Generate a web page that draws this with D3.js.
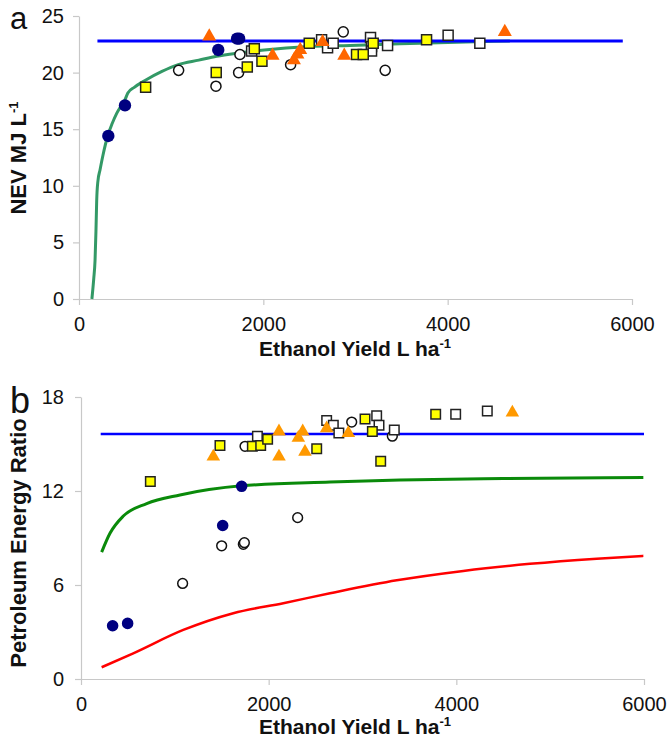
<!DOCTYPE html>
<html>
<head>
<meta charset="utf-8">
<script src="https://cdn.jsdelivr.net/npm/d3@7"></script>
<style>
  body { margin: 0; background: #fff; }
  svg { display: block; font-family: "Liberation Sans", Arial, sans-serif; }
</style>
</head>
<body>
<svg id="chart" width="668" height="738"></svg>
<script>
"use strict"

// shared x ticks
const xTicks = [0, 2000, 4000, 6000];

// ---- panel a : NEV ----
const nevTicks = [0, 5, 10, 15, 20, 25];
const nevNavy = [[318, 14.4], [499, 17.1], [1511, 22.0], [1715, 23.0], [1738, 23.0]];
const nevOpenCircle = [[1081, 20.2], [1486, 18.8], [1732, 20.0], [1746, 21.6], [2296, 20.7], [2867, 23.6], [3322, 20.2]];
const nevOpenSquare = [[1873, 21.9], [2632, 22.9], [2697, 22.2], [2758, 22.6], [3163, 23.1], [3174, 22.3], [3174, 21.9], [3348, 22.4], [4005, 23.3], [4349, 22.6]];
const nevYellow = [[723, 18.7], [1489, 20.0], [1826, 20.5], [1902, 22.1], [1985, 21.0], [2498, 22.6], [3011, 21.6], [3084, 21.6], [3192, 22.6], [3771, 22.9]];
const nevOrange = [[1413, 23.2], [2100, 21.5], [2332, 21.1], [2370, 21.6], [2400, 22.0], [2643, 22.7], [2878, 21.5], [4620, 23.6]];
const nevBlue = [[200, 22.8], [5900, 22.8]];
const nevGreen = [[140, 0], [160, 1.8], [174, 3.4], [184, 6], [192, 8.7], [205, 10.4], [228, 11.4], [260, 12.7],
    [311, 14.4], [360, 15.5], [409, 16.4], [460, 17.1], [499, 17.6], [530, 18.2], [600, 18.7], [716, 19.3],
    [900, 20.1], [1077, 20.7], [1300, 21.1], [1493, 21.45], [1750, 21.75], [2010, 22.0], [2500, 22.3],
    [2939, 22.4], [3482, 22.55], [4000, 22.65], [4675, 22.8]];

// ---- panel b : petroleum energy ratio ----
const perTicks = [0, 6, 12, 18];
const perNavy = [[337, 3.4], [497, 3.55], [1510, 9.8], [1712, 12.3]];
const perOpenCircle = [[1083, 6.1], [1499, 8.5], [1730, 8.6], [1741, 8.7], [1748, 14.85], [2309, 10.3], [2885, 16.4], [3318, 15.5]];
const perOpenSquare = [[1880, 15.5], [2618, 16.5], [2689, 16.2], [2748, 15.7], [3151, 16.8], [3176, 16.2], [3339, 15.9], [3993, 16.9], [4330, 17.1]];
const perYellow = [[739, 12.6], [1481, 14.9], [1826, 14.85], [1915, 14.9], [1989, 15.3], [2512, 14.7], [3027, 16.6], [3105, 15.8], [3194, 13.9], [3780, 16.9]];
const perOrange = [[1410, 14.2], [2110, 15.8], [2110, 14.2], [2316, 15.4], [2363, 15.8], [2387, 14.5], [2618, 16.0], [2849, 15.7], [4597, 17.0]];
const perBlue = [[210, 15.64], [6000, 15.64]];
const perGreen = [[220, 8.1], [309, 9.3], [451, 10.4], [700, 11.2], [1055, 11.75], [1712, 12.33], [2654, 12.57],
    [3400, 12.7], [4500, 12.8], [5993, 12.86]];
const perRed = [[220, 0.75], [557, 1.64], [1090, 3.13], [1623, 4.2], [2156, 4.84], [2654, 5.47], [3365, 6.3],
    [4074, 6.9], [4785, 7.35], [5496, 7.68], [5993, 7.86]];

const svg = d3.select("#chart");

function drawPanel(cfg) {
    const x = d3.scaleLinear().domain([0, 6000]).range(cfg.xRange);
    const y = d3.scaleLinear().domain(cfg.yDomain).range(cfg.yRange);
    const g = svg.append("g");

    const xAxis = g.append("g")
        .attr("transform", `translate(0,${cfg.yRange[0]})`)
        .call(d3.axisBottom(x).tickValues(xTicks).tickFormat(d3.format("d"))
            .tickSize(6).tickSizeOuter(0).tickPadding(12));
    const yAxis = g.append("g")
        .attr("transform", `translate(${cfg.xRange[0]},0)`)
        .call(d3.axisLeft(y).tickValues(cfg.yTicks).tickSize(6).tickSizeOuter(0).tickPadding(cfg.yPad));

    [xAxis, yAxis].forEach(a => {
        a.select(".domain").attr("stroke", "#c8c8c8").attr("stroke-width", 1.2);
        a.selectAll(".tick line").attr("stroke", "#c8c8c8").attr("stroke-width", 1.2);
        a.selectAll(".tick text").attr("fill", "#111").style("font-size", "20px")
            .style("font-family", "Liberation Sans, Arial, sans-serif");
    });

    const line = d3.line().x(d => x(d[0])).y(d => y(d[1])).curve(d3.curveMonotoneX);
    cfg.lines.forEach(l => {
        g.append("path").datum(l.data)
            .attr("d", line)
            .attr("fill", "none")
            .attr("stroke", l.color)
            .attr("stroke-width", l.width);
    });

    cfg.markers.forEach(m => {
        g.append("g").selectAll("path").data(m.data).enter().append("path")
            .attr("transform", d => `translate(${x(d[0])},${y(d[1])})`)
            .attr("d", d3.symbol().type(m.type).size(m.size))
            .attr("fill", m.fill)
            .attr("stroke", m.stroke || "none")
            .attr("stroke-width", m.stroke ? 1.5 : 0);
    });

    // x title
    const xt = g.append("text")
        .attr("x", 355).attr("y", cfg.xTitleY)
        .attr("text-anchor", "middle")
        .style("font-size", "21px").style("font-weight", "bold").attr("fill", "#111");
    xt.append("tspan").text("Ethanol Yield L ha");
    xt.append("tspan").attr("dy", -8).style("font-size", "13px").text("-1");

    // y title
    const yt = g.append("text")
        .attr("transform", `translate(26,${cfg.yTitleY}) rotate(-90)`)
        .attr("text-anchor", "middle")
        .style("font-size", "22px").style("font-weight", "bold").attr("fill", "#111");
    yt.append("tspan").text(cfg.yTitle);
    if (cfg.yTitleSup) yt.append("tspan").attr("dy", -8).style("font-size", "13px").text(cfg.yTitleSup);

    // panel letter
    g.append("text").attr("x", 10).attr("y", cfg.letterY)
        .style("font-size", cfg.letterSize).attr("fill", "#111").text(cfg.letter);
}

drawPanel({
    xRange: [79, 632], yRange: [299, 16], yDomain: [0, 25], yTicks: nevTicks, yPad: 9,
    xTitleY: 356, yTitle: "NEV MJ L", yTitleSup: "-1", yTitleY: 158,
    letter: "a", letterY: 29, letterSize: "31px",
    lines: [
        { data: nevGreen, color: "#339966", width: 3 },
        { data: nevBlue, color: "#0000ff", width: 3 }
    ],
    markers: [
        { data: nevOpenCircle, type: d3.symbolCircle, size: 80, fill: "#fff", stroke: "#111" },
        { data: nevNavy, type: d3.symbolCircle, size: 120, fill: "#000080" },
        { data: nevOpenSquare, type: d3.symbolSquare, size: 100, fill: "#fff", stroke: "#222" },
        { data: nevYellow, type: d3.symbolSquare, size: 100, fill: "#ffff00", stroke: "#222" },
        { data: nevOrange, type: d3.symbolTriangle, size: 85, fill: "#ff6600" }
    ]
});

drawPanel({
    xRange: [81, 644], yRange: [679, 397], yDomain: [0, 18], yTicks: perTicks, yPad: 11,
    xTitleY: 734, yTitle: "Petroleum Energy Ratio", yTitleY: 543,
    letter: "b", letterY: 413, letterSize: "36px",
    lines: [
        { data: perRed, color: "#ff0000", width: 2.5 },
        { data: perGreen, color: "#0a8a0a", width: 3 },
        { data: perBlue, color: "#0000ff", width: 2.5 }
    ],
    markers: [
        { data: perOpenCircle, type: d3.symbolCircle, size: 75, fill: "#fff", stroke: "#111" },
        { data: perNavy, type: d3.symbolCircle, size: 105, fill: "#000080" },
        { data: perOpenSquare, type: d3.symbolSquare, size: 90, fill: "#fff", stroke: "#222" },
        { data: perYellow, type: d3.symbolSquare, size: 90, fill: "#ffff00", stroke: "#222" },
        { data: perOrange, type: d3.symbolTriangle, size: 80, fill: "#ff9900" }
    ]
});
</script>
</body>
</html>
